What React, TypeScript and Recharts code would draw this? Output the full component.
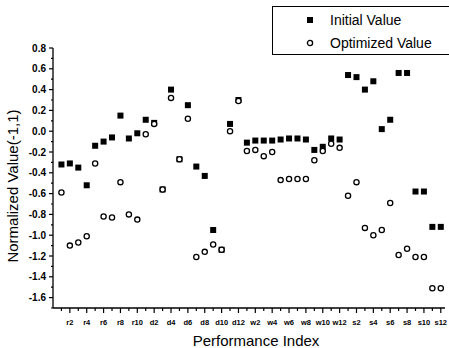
import React from "react";
import { ScatterChart, Scatter, XAxis, YAxis, Legend } from "recharts";

const categories = [
  "r1", "r2", "r3", "r4", "r5", "r6", "r7", "r8", "r9", "r10",
  "d1", "d2", "d3", "d4", "d5", "d6", "d7", "d8", "d9", "d10", "d11", "d12",
  "w1", "w2", "w3", "w4", "w5", "w6", "w7", "w8", "w9", "w10", "w11", "w12",
  "s1", "s2", "s3", "s4", "s5", "s6", "s7", "s8", "s9", "s10", "s11", "s12",
];

const initialValues = [
  -0.32, -0.31, -0.35, -0.52, -0.14, -0.1, -0.06, 0.15, -0.07, -0.02,
  0.11, 0.08, -0.56, 0.4, -0.27, 0.25, -0.34, -0.43, -0.95, -1.14, 0.07, 0.3,
  -0.11, -0.09, -0.09, -0.09, -0.08, -0.07, -0.07, -0.08, -0.18, -0.15, -0.07, -0.08,
  0.54, 0.52, 0.4, 0.48, 0.02, 0.11, 0.56, 0.56, -0.58, -0.58, -0.92, -0.92,
];

const optimizedValues = [
  -0.59, -1.1, -1.07, -1.01, -0.31, -0.82, -0.83, -0.49, -0.8, -0.85,
  -0.03, 0.07, -0.56, 0.32, -0.27, 0.12, -1.21, -1.16, -1.09, -1.14, 0.0, 0.29,
  -0.19, -0.18, -0.24, -0.2, -0.47, -0.46, -0.46, -0.46, -0.28, -0.19, -0.12, -0.16,
  -0.62, -0.49, -0.93, -1.0, -0.95, -0.69, -1.19, -1.13, -1.21, -1.21, -1.51, -1.51,
];

const yTicks = [
  -1.7, -1.6, -1.5, -1.4, -1.3, -1.2, -1.1, -1.0, -0.9, -0.8, -0.7, -0.6, -0.5,
  -0.4, -0.3, -0.2, -0.1, 0.0, 0.1, 0.2, 0.3, 0.4, 0.5, 0.6, 0.7, 0.8,
];

const FONT = "'Liberation Sans', Arial, sans-serif";

const initialData = categories.map((_, i) => ({ k: i + 1, v: initialValues[i] }));
const optimizedData = categories.map((_, i) => ({ k: i + 1, v: optimizedValues[i] }));
const xTicks = categories.map((_, i) => i + 1);

function SquareDot(props: any) {
  const { cx, cy } = props;
  return <rect x={cx - 3} y={cy - 3} width={6} height={6} fill="#000" />;
}

function CircleDot(props: any) {
  const { cx, cy } = props;
  return <circle cx={cx} cy={cy} r={2.6} fill="#fff" stroke="#000" strokeWidth={1.3} />;
}

function XTick(props: any) {
  const { x, y, payload } = props;
  const k = payload.value;
  const major = k % 2 === 0;
  return (
    <g>
      <line x1={x} y1={y} x2={x} y2={y + (major ? 5 : 3)} stroke="#000" strokeWidth={1.2} />
      {major && (
        <text
          x={x}
          y={y + 14}
          textAnchor="middle"
          dominantBaseline="central"
          fontSize={7.5}
          fontWeight="bold"
          fontFamily={FONT}
          fill="#000"
        >
          {categories[k - 1]}
        </text>
      )}
    </g>
  );
}

function YTick(props: any) {
  const { x, y, payload } = props;
  const v = payload.value;
  const major = Math.round(v * 10) % 2 === 0;
  return (
    <g>
      <line x1={x - (major ? 4 : 2)} y1={y} x2={x} y2={y} stroke="#000" strokeWidth={1.2} />
      {major && (
        <text
          x={x - 7}
          y={y}
          textAnchor="end"
          dominantBaseline="central"
          fontSize={10}
          fontWeight="bold"
          fontFamily={FONT}
          fill="#000"
        >
          {v.toFixed(1)}
        </text>
      )}
    </g>
  );
}

function LegendBox(props: any) {
  const items = props.payload || [];
  return (
    <div
      style={{
        position: "relative",
        width: 177,
        height: 49,
        borderTop: "1px solid #000",
        borderLeft: "1px solid #000",
        borderBottom: "1px solid #000",
        boxSizing: "border-box",
        fontFamily: FONT,
        fontSize: 14,
        color: "#000",
      }}
    >
      {items.map((it: any, i: number) => (
        <div key={it.value} style={{ position: "absolute", left: 0, top: i === 0 ? 5 : 28, height: 16, width: 177 }}>
          <svg width={10} height={10} style={{ position: "absolute", left: 32, top: 3 }}>
            {i === 0 ? (
              <rect x={2} y={2} width={6} height={6} fill="#000" />
            ) : (
              <circle cx={5} cy={5} r={2.6} fill="#fff" stroke="#000" strokeWidth={1.3} />
            )}
          </svg>
          <span style={{ position: "absolute", left: 57, top: 0, lineHeight: "16px", whiteSpace: "nowrap" }}>
            {it.value}
          </span>
        </div>
      ))}
    </div>
  );
}

export default function App() {
  return (
    <div style={{ width: 449, height: 348, background: "#fff" }}>
      <style>{`body{margin:0;background:#fff}`}</style>
      <ScatterChart width={449} height={348} margin={{ top: 48, right: 4, bottom: 0, left: 0 }}>
        <XAxis
          type="number"
          dataKey="k"
          domain={[0, 46.5]}
          ticks={xTicks}
          interval={0}
          tick={<XTick />}
          tickSize={0}
          tickMargin={0}
          height={40}
          axisLine={{ stroke: "#000", strokeWidth: 1.3 }}
          label={() => (
            <text x={256} y={340} textAnchor="middle" dominantBaseline="central" fontSize={15} fontFamily={FONT} fill="#000">
              Performance Index
            </text>
          )}
        />
        <YAxis
          type="number"
          dataKey="v"
          domain={[-1.7, 0.8]}
          ticks={yTicks}
          interval={0}
          tick={<YTick />}
          tickSize={0}
          tickMargin={0}
          width={53}
          axisLine={{ stroke: "#000", strokeWidth: 1.3 }}
          label={() => (
            <text
              x={12}
              y={186}
              transform="rotate(-90 12 186)"
              textAnchor="middle"
              dominantBaseline="central"
              fontSize={15}
              fontFamily={FONT}
              fill="#000"
            >
              Normalized Value(-1,1)
            </text>
          )}
        />
        <Legend
          layout="horizontal"
          verticalAlign="middle"
          align="center"
          content={<LegendBox />}
          wrapperStyle={{ position: "absolute", left: 272, top: 6, width: 177, height: 49 }}
        />
        <Scatter
          name="Initial Value"
          data={initialData}
          shape={<SquareDot />}
          isAnimationActive={false}
        />
        <Scatter
          name="Optimized Value"
          data={optimizedData}
          shape={<CircleDot />}
          isAnimationActive={false}
        />
      </ScatterChart>
    </div>
  );
}
